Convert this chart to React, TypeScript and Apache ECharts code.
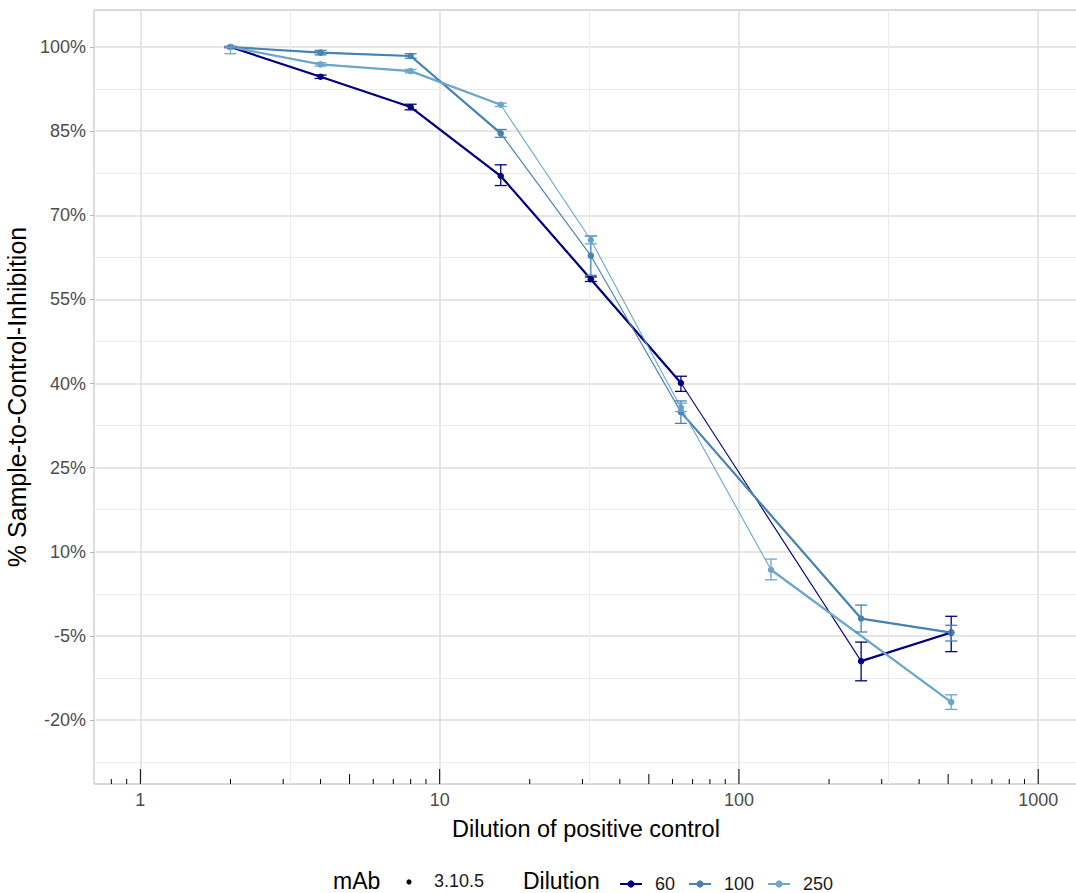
import React, { useEffect, useRef } from "react";
import * as echarts from "echarts";

// ---------------- data ----------------
const dilutionSteps = [2, 4, 8, 16, 32, 64, 128, 256, 512];
const seriesNames = ["60", "100", "250"];

const mean60 = [100, 94.7, 89.3, 77.0, 58.6, 40.1, null, -9.5, -4.4];
const low60 = [99.9, 94.4, 88.8, 75.3, 58.2, 38.6, null, -13.0, -7.8];
const high60 = [100.1, 95.0, 89.8, 79.0, 59.0, 41.3, null, -6.1, -1.5];

const mean100 = [100, 99.0, 98.4, 84.6, 62.8, 34.9, null, -1.9, -4.4];
const low100 = [99.9, 98.6, 98.0, 83.9, 59.3, 32.9, null, -4.3, -5.9];
const high100 = [100.1, 99.4, 98.8, 85.3, 66.3, 36.9, null, 0.5, -3.1];

const mean250 = [100, 96.9, 95.7, 89.7, 65.6, 35.7, 6.8, null, -16.8];
const low250 = [98.8, 96.6, 95.4, 89.4, 64.9, 35.0, 5.0, null, -18.1];
const high250 = [100, 97.2, 96.0, 90.0, 66.3, 36.5, 8.7, null, -15.5];

// dilution ranges where duplicated traces overlap (heavier segments)
const overlap60 = [[2, 64], [256, 512]];
const overlap100 = [[2, 16], [64, 512]];
const overlap250 = [[2, 16], [128, 512]];

const yTicks = [-20, -5, 10, 25, 40, 55, 70, 85, 100];
const yMinorTicks = [-27.5, -12.5, 2.5, 17.5, 32.5, 47.5, 62.5, 77.5, 92.5];
const xMinorTicks = [3.1623, 31.623, 316.23];
const logTickValues = [
  0.8, 0.9, 1, 2, 3, 4, 5, 6, 7, 8, 9, 10, 20, 30, 40, 50, 60, 70, 80, 90,
  100, 200, 300, 400, 500, 600, 700, 800, 900, 1000,
];

const X_MIN = 0.7;
const X_MAX = 1358;
const Y_MIN = -31.4;
const Y_MAX = 106.6;

const colors = ["#000080", "#4682B4", "#6CA6CD"];
const FONT = "'Liberation Sans', Arial, sans-serif";

type Grp = {
  name: string;
  color: string;
  mean: (number | null)[];
  low: (number | null)[];
  high: (number | null)[];
  overlap: number[][];
};

const groups: Grp[] = [
  { name: seriesNames[0], color: colors[0], mean: mean60, low: low60, high: high60, overlap: overlap60 },
  { name: seriesNames[1], color: colors[1], mean: mean100, low: low100, high: high100, overlap: overlap100 },
  { name: seriesNames[2], color: colors[2], mean: mean250, low: low250, high: high250, overlap: overlap250 },
];

function pointData(g: Grp) {
  const out: any[] = [];
  dilutionSteps.forEach((d, i) => {
    if (g.mean[i] != null) out.push([d, g.mean[i]]);
  });
  return out;
}

function overlapData(g: Grp) {
  const out: any[] = [];
  g.overlap.forEach((r, k) => {
    dilutionSteps.forEach((d, i) => {
      if (d >= r[0] && d <= r[1] && g.mean[i] != null) out.push([d, g.mean[i]]);
    });
    if (k < g.overlap.length - 1) out.push([r[1], null]);
  });
  return out;
}

function errData(g: Grp) {
  const out: any[] = [];
  dilutionSteps.forEach((d, i) => {
    if (g.mean[i] != null) out.push([d, g.low[i], g.high[i]]);
  });
  return out;
}

function logFmt(v: number) {
  const l = Math.log10(v);
  if (Math.abs(l - Math.round(l)) < 1e-6 && v >= 1) return String(Math.round(v));
  return "";
}

export default function App() {
  const ref = useRef<HTMLDivElement>(null);

  useEffect(() => {
    if (!ref.current) return;
    const chart = echarts.init(ref.current, undefined, { renderer: "svg" });

    const series: any[] = [];

    // minor grid lines
    series.push({
      name: "minor-grid",
      type: "line",
      data: [],
      z: 1,
      silent: true,
      markLine: {
        silent: true,
        z: 1,
        symbol: "none",
        label: { show: false },
        lineStyle: { color: "#EBEBEB", width: 1, type: "solid" },
        data: [
          ...yMinorTicks.map((v) => ({ yAxis: v })),
          ...xMinorTicks.map((v) => ({ xAxis: v })),
        ],
      },
    });

    // log ticks along bottom
    series.push({
      name: "logticks",
      type: "custom",
      silent: true,
      z: 3,
      data: logTickValues.map((v) => [v]),
      encode: { x: 0 },
      renderItem: (params: any, api: any) => {
        const v = api.value(0);
        const l = Math.log10(v);
        let len = 5;
        if (Math.abs(l - Math.round(l)) < 1e-6) len = 15;
        else if (Math.abs(v / Math.pow(10, Math.floor(l)) - 5) < 1e-6) len = 10;
        const p = api.coord([v, Y_MIN]);
        return {
          type: "line",
          shape: { x1: p[0], y1: p[1], x2: p[0], y2: p[1] - len },
          style: { stroke: "#000", lineWidth: 1 },
        };
      },
    });

    groups.forEach((g) => {
      series.push({
        name: g.name,
        type: "line",
        data: pointData(g),
        z: 4,
        symbol: "circle",
        symbolSize: 6.5,
        itemStyle: { color: g.color },
        lineStyle: { color: g.color, width: 1.1 },
      });
      series.push({
        name: g.name + " overlap",
        type: "line",
        data: overlapData(g),
        connectNulls: false,
        z: 4,
        symbol: "none",
        silent: true,
        lineStyle: { color: g.color, width: 2.2 },
      });
      series.push({
        name: g.name + " err",
        type: "custom",
        z: 5,
        data: errData(g),
        encode: { x: 0, y: [1, 2] },
        renderItem: (params: any, api: any) => {
          const x = api.value(0);
          const lo = api.value(1);
          const hi = api.value(2);
          const t = api.coord([x, hi]);
          const b = api.coord([x, lo]);
          const hw = 6;
          const style = { stroke: g.color, lineWidth: 1.3 };
          return {
            type: "group",
            children: [
              { type: "line", shape: { x1: t[0], y1: t[1], x2: b[0], y2: b[1] }, style },
              { type: "line", shape: { x1: t[0] - hw, y1: t[1], x2: t[0] + hw, y2: t[1] }, style },
              { type: "line", shape: { x1: b[0] - hw, y1: b[1], x2: b[0] + hw, y2: b[1] }, style },
            ],
          };
        },
      });
    });

    const option: any = {
      animation: false,
      textStyle: { fontFamily: FONT },
      grid: {
        left: 94,
        right: -2,
        top: 10,
        bottom: 109,
        containLabel: false,
        outerBoundsMode: "none",
        show: true,
        borderColor: "#B3B3B3",
        borderWidth: 1,
        backgroundColor: "transparent",
      },
      xAxis: {
        type: "log",
        logBase: 10,
        min: X_MIN,
        max: X_MAX,
        name: "Dilution of positive control",
        nameLocation: "middle",
        nameGap: 33,
        nameTextStyle: { fontSize: 23.5, color: "#000", fontFamily: FONT },
        axisLine: { show: false },
        axisTick: { show: false },
        axisLabel: {
          fontSize: 18,
          color: "#4D4D4D",
          margin: 7,
          formatter: logFmt,
          showMinLabel: false,
          showMaxLabel: false,
          fontFamily: FONT,
        },
        splitLine: { show: true, lineStyle: { color: "#DEDEDE", width: 1.5 } },
      },
      yAxis: {
        type: "value",
        min: Y_MIN,
        max: Y_MAX,
        name: "% Sample-to-Control-Inhibition",
        nameLocation: "middle",
        nameGap: 52,
        nameTextStyle: { fontSize: 25, color: "#000", fontFamily: FONT },
        axisLine: { show: false },
        axisTick: {
          show: true,
          length: 4,
          lineStyle: { color: "#B3B3B3" },
          customValues: yTicks,
        },
        axisLabel: {
          customValues: yTicks,
          formatter: (v: number) => v + "%",
          fontSize: 18,
          color: "#4D4D4D",
          margin: 8,
          fontFamily: FONT,
        },
        splitLine: { show: true, lineStyle: { color: "#DEDEDE", width: 1.5 } },
      },
      legend: {
        data: seriesNames,
        left: 614,
        top: 870,
        itemWidth: 22,
        itemHeight: 9,
        itemGap: 13,
        textStyle: { fontSize: 18, color: "#1A1A1A", fontFamily: FONT, padding: [0, 0, 0, 8] },
      },
      graphic: [
        {
          type: "text",
          left: 333,
          top: 869,
          style: { text: "mAb", font: `23px ${FONT}`, fill: "#000" },
        },
        {
          type: "circle",
          shape: { cx: 409, cy: 882, r: 2.6 },
          style: { fill: "#000" },
        },
        {
          type: "text",
          left: 434,
          top: 872,
          style: { text: "3.10.5", font: `18px ${FONT}`, fill: "#1A1A1A" },
        },
        {
          type: "text",
          left: 523,
          top: 869,
          style: { text: "Dilution", font: `23px ${FONT}`, fill: "#000" },
        },
      ],
      series,
    };

    chart.setOption(option);
    return () => chart.dispose();
  }, []);

  return (
    <div
      ref={ref}
      style={{ position: "absolute", left: 0, top: 0, width: 1076, height: 893 }}
    />
  );
}
